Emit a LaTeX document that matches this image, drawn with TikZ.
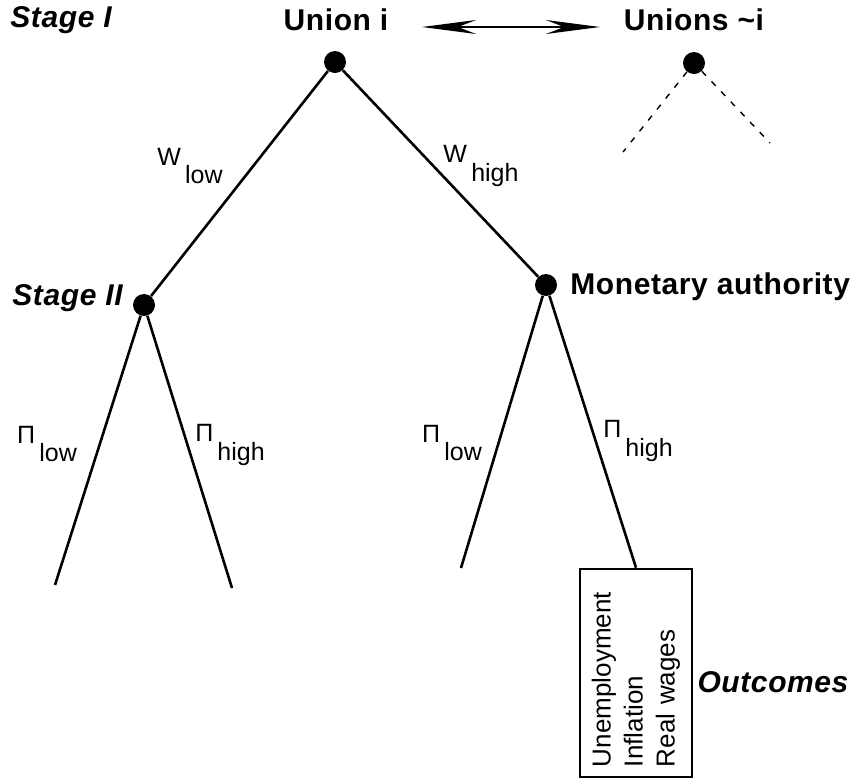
\documentclass[tikz,border=0pt]{standalone}
\usepackage{fontspec}
\setmainfont{Liberation Sans}
\usetikzlibrary{arrows.meta,positioning}
\newcommand{\movelab}[2]{#1\,\raisebox{-0.75em}{#2}}

\begin{document}
\begin{tikzpicture}[x=0.5pt,y=-0.5pt,
  every node/.style={inner sep=1pt},
  dot/.style={circle,fill=black,inner sep=0pt,minimum size=11pt},
  player/.style={font=\fontsize{15}{18}\selectfont\bfseries\addfontfeature{LetterSpace=2}},
  stagelab/.style={font=\fontsize{15}{18}\selectfont\bfseries\itshape\addfontfeature{LetterSpace=2}},
  movetxt/.style={font=\fontsize{12.5}{15}\selectfont},
  branch/.style={line width=1.3pt},
  ghost/.style={line width=0.7pt,dash pattern=on 3pt off 4pt}]
  \useasboundingbox (0,0) rectangle (858,778);

  % players
  \node[dot] (ui) at (335,62) {};
  \node[dot] (uo) at (694,63) {};
  \node[dot] (s2) at (144,305) {};
  \node[dot] (ma) at (546,285) {};
  \node[player] (uilab) at (336,20) {Union i};
  \node[player] (uolab) at (694,20) {Unions \char`~i};
  \node[player,anchor=west] (malab) at (568,287) {Monetary authority};
  \node[stagelab,anchor=west] (st1) at (8,20) {Stage I};
  \node[stagelab,anchor=west] (st2) at (10,298) {Stage II};

  \draw[line width=1pt,{Stealth[length=27pt,width=7pt,inset=9pt]}-{Stealth[length=27pt,width=7pt,inset=9pt]}]
    (422,27) coordinate (al) -- (600,27) coordinate (ar);

  % branches
  \coordinate (e1) at (55,585);
  \coordinate (e2) at (232,588);
  \coordinate (e3) at (461,568);
  \coordinate (g1) at (623,152);
  \coordinate (g2) at (770,143);
  \node[draw,line width=1.3pt,rotate=90,minimum width=104pt,minimum height=56pt,
    text width=94pt,align=left,inner xsep=5pt,inner ysep=2pt,
    font=\fontsize{13}{16}\selectfont] (outbox) at (636,673)
    {Unemployment\\Inflation\\Real wages};
  \draw[branch] (ui) -- (s2);
  \draw[branch] (ui) -- (ma);
  \draw[branch] (s2) -- (e1);
  \draw[branch] (s2) -- (e2);
  \draw[branch] (ma) -- (e3);
  \draw[branch] (ma) -- (outbox.east);
  \draw[ghost] (uo) -- (g1);
  \draw[ghost] (uo) -- (g2);

  % moves
  \node[movetxt] (wl) at (190,166) {\movelab{W}{low}};
  \node[movetxt] (wh) at (481,166) {\movelab{W}{high}};
  \node[movetxt] (pl1) at (47,444) {\movelab{Π}{low}};
  \node[movetxt] (ph1) at (230,445) {\movelab{Π}{high}};
  \node[movetxt] (pl2) at (452,443) {\movelab{Π}{low}};
  \node[movetxt] (ph2) at (638,441) {\movelab{Π}{high}};

  \node[stagelab] (outlab) at (773,682) {Outcomes};
\end{tikzpicture}
\end{document}
